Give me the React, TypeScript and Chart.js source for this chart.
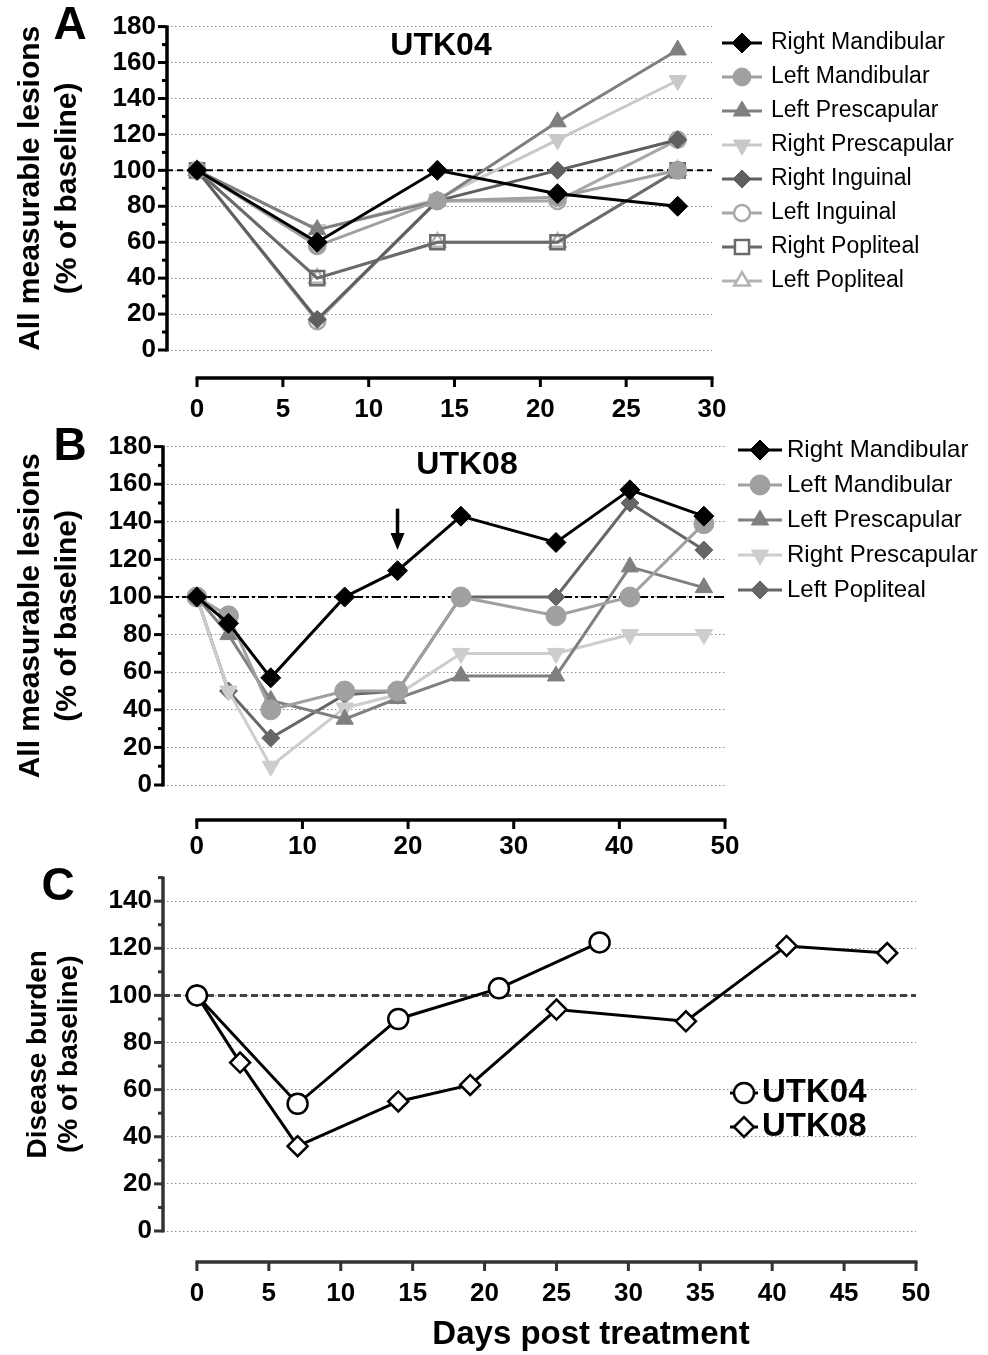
import React, { useEffect, useRef } from 'react';
import { Chart, registerables } from 'chart.js';
import { drawPoint } from 'chart.js/helpers';

Chart.register(...registerables);

const FONT = "'Liberation Sans', Arial, Helvetica, sans-serif";

// ---------- Panel A (UTK04) ----------
const daysA = [0, 7, 14, 21, 28];
const rightMandibularA = [100, 60, 100, 87, 80];
const leftMandibularA = [100, 58, 83, 85, 100];
const leftPrescapularA = [100, 67, 83, 127, 167];
const rightPrescapularA = [100, 67, 84, 117, 150];
const rightInguinalA = [100, 17, 83, 100, 117];
const leftInguinalA = [100, 16, 83, 83, 117];
const rightPoplitealA = [100, 40, 60, 60, 100];
const leftPoplitealA = [100, 40, 60, 60, 100];
const xTicksA = [0, 5, 10, 15, 20, 25, 30];
const yTicksAB = [0, 20, 40, 60, 80, 100, 120, 140, 160, 180];
const yMinorAB = [10, 30, 50, 70, 90, 110, 130, 150, 170];

// ---------- Panel B (UTK08) ----------
const daysB = [0, 3, 7, 14, 19, 25, 34, 41, 48];
const rightMandibularB = [100, 86, 57, 100, 114, 143, 129, 157, 143];
const leftMandibularB = [100, 90, 40, 50, 50, 100, 90, 100, 139];
const leftPrescapularB = [100, 80, 45, 35, 46, 58, 58, 116, 105];
const rightPrescapularB = [100, 50, 10, 41, 48, 70, 70, 80, 80];
const leftPoplitealB = [100, 50, 25, 48, 50, 100, 100, 150, 125];
const xTicksB = [0, 10, 20, 30, 40, 50];

// ---------- Panel C (disease burden) ----------
const daysUTK04 = [0, 7, 14, 21, 28];
const burdenUTK04 = [100, 54, 90, 103, 122.5];
const daysUTK08 = [0, 3, 7, 14, 19, 25, 34, 41, 48];
const burdenUTK08 = [100, 71.5, 36, 55, 62, 94, 89, 121, 118];
const xTicksC = [0, 5, 10, 15, 20, 25, 30, 35, 40, 45, 50];
const yTicksC = [0, 20, 40, 60, 80, 100, 120, 140];
const yMinorC = [10, 30, 50, 70, 90, 110, 130, 150];

const pts = (xs: number[], ys: number[]) => xs.map((x, i) => ({ x, y: ys[i] }));

type Style = {
  color: string;
  shape: string;
  radius: number;
  open?: boolean;
  rotation?: number;
  lineWidth?: number;
  fill?: string;
};

const series = (label: string, xs: number[], ys: number[], s: Style) => ({
  label,
  data: pts(xs, ys),
  borderColor: s.color,
  borderWidth: s.lineWidth ?? 3,
  pointStyle: s.shape,
  pointRadius: s.radius,
  pointRotation: s.rotation ?? 0,
  pointBackgroundColor: s.fill ?? (s.open ? 'rgba(255,255,255,0)' : s.color),
  pointBorderColor: s.color,
  pointBorderWidth: s.open ? 2.5 : 1,
  tension: 0,
  clip: false as any,
});

const panelPlugin = {
  id: 'panel',
  beforeDatasetsDraw(chart: any, _a: any, o: any) {
    const { ctx, chartArea: ca, scales } = chart;
    const yy = scales.y.getPixelForValue(100);
    ctx.save();
    ctx.setLineDash(o.refDash);
    ctx.strokeStyle = o.refColor;
    ctx.lineWidth = o.refWidth;
    ctx.beginPath();
    ctx.moveTo(ca.left, yy);
    ctx.lineTo(ca.right, yy);
    ctx.stroke();
    ctx.restore();
  },
  afterDraw(chart: any, _a: any, o: any) {
    const { ctx, chartArea: ca, scales } = chart;
    const x = scales.x;
    const y = scales.y;
    ctx.save();
    ctx.strokeStyle = o.axisColor;
    ctx.lineCap = 'butt';
    // y axis
    ctx.lineWidth = 3.5;
    ctx.beginPath();
    ctx.moveTo(ca.left, ca.top - 1);
    ctx.lineTo(ca.left, ca.bottom + 1.5);
    ctx.stroke();
    ctx.lineWidth = 3;
    for (const t of y.ticks) {
      const py = y.getPixelForValue(t.value);
      ctx.beginPath();
      ctx.moveTo(ca.left, py);
      ctx.lineTo(ca.left - 9, py);
      ctx.stroke();
    }
    for (const v of o.yMinor) {
      const py = y.getPixelForValue(v);
      ctx.beginPath();
      ctx.moveTo(ca.left, py);
      ctx.lineTo(ca.left - 5, py);
      ctx.stroke();
    }
    // x axis (offset below plot)
    const xb = ca.bottom + o.xAxisOffset;
    const xt = x.ticks.map((t: any) => t.value);
    ctx.lineWidth = 3.5;
    ctx.beginPath();
    ctx.moveTo(x.getPixelForValue(xt[0]) - 1.5, xb);
    ctx.lineTo(x.getPixelForValue(xt[xt.length - 1]) + 1.5, xb);
    ctx.stroke();
    ctx.lineWidth = 3;
    for (const v of xt) {
      const px = x.getPixelForValue(v);
      ctx.beginPath();
      ctx.moveTo(px, xb);
      ctx.lineTo(px, xb + 9);
      ctx.stroke();
    }
    // arrow
    if (o.arrow) {
      const ax = x.getPixelForValue(o.arrow.x);
      const top = y.getPixelForValue(o.arrow.top);
      const tip = y.getPixelForValue(o.arrow.tip);
      ctx.fillStyle = '#000';
      ctx.strokeStyle = '#000';
      ctx.lineWidth = 3.5;
      ctx.beginPath();
      ctx.moveTo(ax, top);
      ctx.lineTo(ax, tip - 14);
      ctx.stroke();
      ctx.beginPath();
      ctx.moveTo(ax - 7, tip - 17);
      ctx.lineTo(ax + 7, tip - 17);
      ctx.lineTo(ax, tip);
      ctx.closePath();
      ctx.fill();
    }
    // texts
    ctx.fillStyle = '#000';
    ctx.textBaseline = 'middle';
    for (const t of o.texts) {
      ctx.font = t.font;
      ctx.textAlign = t.align || 'center';
      ctx.fillText(t.text, t.x, t.y);
    }
    // legend
    const lg = o.legend;
    if (lg) {
      const dsets = chart.data.datasets;
      dsets.forEach((ds: any, i: number) => {
        const cy = lg.y0 + i * lg.dy;
        ctx.setLineDash([]);
        ctx.strokeStyle = ds.borderColor;
        ctx.lineWidth = ds.borderWidth;
        ctx.beginPath();
        ctx.moveTo(lg.x - lg.half, cy);
        ctx.lineTo(lg.x + lg.half, cy);
        ctx.stroke();
        ctx.fillStyle = ds.pointBackgroundColor === 'rgba(255,255,255,0)' ? '#fff' : ds.pointBackgroundColor;
        ctx.strokeStyle = ds.pointBorderColor;
        ctx.lineWidth = ds.pointBorderWidth;
        drawPoint(ctx, { pointStyle: ds.pointStyle, rotation: ds.pointRotation, radius: ds.pointRadius, borderWidth: ds.pointBorderWidth } as any, lg.x, cy);
        ctx.fillStyle = '#000';
        ctx.font = lg.font;
        ctx.textAlign = 'left';
        ctx.textBaseline = 'middle';
        ctx.fillText(ds.label, lg.textX, cy);
      });
    }
    ctx.restore();
  },
};

type PanelCfg = {
  width: number;
  height: number;
  datasets: any[];
  xMin: number;
  xMax: number;
  xTicks: number[];
  yMax: number;
  yTicks: number[];
  yMinor: number[];
  yWidth: number;
  xHeight: number;
  padTop: number;
  padRight: number;
  xLabelPad: number;
  yTitle: string[];
  yTitleFont: any;
  yTitlePad: number;
  plugin: any;
};

function buildConfig(p: PanelCfg): any {
  return {
    type: 'line',
    data: { datasets: p.datasets },
    plugins: [panelPlugin],
    options: {
      animation: false,
      responsive: false,
      maintainAspectRatio: false,
      events: [],
      layout: { padding: { top: p.padTop, right: p.padRight, left: 0, bottom: 0 } },
      plugins: {
        legend: { display: false },
        tooltip: { enabled: false },
        panel: p.plugin,
      },
      scales: {
        x: {
          type: 'linear',
          min: p.xMin,
          max: p.xMax,
          afterBuildTicks: (s: any) => {
            s.ticks = p.xTicks.map((v) => ({ value: v }));
          },
          afterFit: (s: any) => {
            s.height = p.xHeight;
          },
          grid: { display: false, drawTicks: false },
          border: { display: false },
          ticks: {
            padding: p.xLabelPad,
            color: '#000',
            maxRotation: 0,
            autoSkip: false,
            font: { family: FONT, size: 26, weight: 'bold' },
          },
        },
        y: {
          type: 'linear',
          min: 0,
          max: p.yMax,
          afterBuildTicks: (s: any) => {
            s.ticks = p.yTicks.map((v) => ({ value: v }));
          },
          afterFit: (s: any) => {
            s.width = p.yWidth;
          },
          grid: { display: true, drawTicks: false, color: '#8c8c8c', lineWidth: 1 },
          border: { display: false, dash: [1.5, 2.5] },
          ticks: {
            padding: 11,
            color: '#000',
            autoSkip: false,
            font: { family: FONT, size: 26, weight: 'bold' },
          },
          title: {
            display: true,
            text: p.yTitle,
            color: '#000',
            font: p.yTitleFont,
            padding: { top: p.yTitlePad, bottom: 0 },
          },
        },
      },
    },
  };
}

const W = 988;

const panelA: PanelCfg = {
  width: W,
  height: 432,
  datasets: [
    series('Right Mandibular', daysA, rightMandibularA, { color: '#000000', shape: 'rectRot', radius: 10 }),
    series('Left Mandibular', daysA, leftMandibularA, { color: '#a0a0a0', shape: 'circle', radius: 9 }),
    series('Left Prescapular', daysA, leftPrescapularA, { color: '#7f7f7f', shape: 'triangle', radius: 10 }),
    series('Right Prescapular', daysA, rightPrescapularA, { color: '#c8c8c8', shape: 'triangle', radius: 10, rotation: 180 }),
    series('Right Inguinal', daysA, rightInguinalA, { color: '#5f5f5f', shape: 'rectRot', radius: 9 }),
    series('Left Inguinal', daysA, leftInguinalA, { color: '#a8a8a8', shape: 'circle', radius: 8, open: true }),
    series('Right Popliteal', daysA, rightPoplitealA, { color: '#6a6a6a', shape: 'rect', radius: 10, open: true }),
    series('Left Popliteal', daysA, leftPoplitealA, { color: '#b4b4b4', shape: 'triangle', radius: 9, open: true }),
  ],
  xMin: -1.75,
  xMax: 30,
  xTicks: xTicksA,
  yMax: 180,
  yTicks: yTicksAB,
  yMinor: yMinorAB,
  yWidth: 167,
  xHeight: 82,
  padTop: 24,
  padRight: W - 712,
  xLabelPad: 44,
  yTitle: ['All measurable lesions', '(% of baseline)'],
  yTitleFont: { family: FONT, size: 30, weight: 'bold', lineHeight: 1.24 },
  yTitlePad: 12,
  plugin: {
    refDash: [6, 4],
    refColor: '#000',
    refWidth: 2,
    axisColor: '#000',
    yMinor: yMinorAB,
    xAxisOffset: 28,
    texts: [
      { text: 'A', x: 70, y: 26, font: `bold 46px ${FONT}` },
      { text: 'UTK04', x: 441, y: 46, font: `bold 32px ${FONT}` },
    ],
    legend: { x: 742, half: 20, textX: 771, y0: 43, dy: 34, font: `23px ${FONT}` },
  },
};

const panelB: PanelCfg = {
  width: W,
  height: 440,
  datasets: [
    series('Right Mandibular', daysB, rightMandibularB, { color: '#000000', shape: 'rectRot', radius: 10 }),
    series('Left Mandibular', daysB, leftMandibularB, { color: '#a0a0a0', shape: 'circle', radius: 10 }),
    series('Left Prescapular', daysB, leftPrescapularB, { color: '#808080', shape: 'triangle', radius: 10 }),
    series('Right Prescapular', daysB, rightPrescapularB, { color: '#cdcdcd', shape: 'triangle', radius: 10, rotation: 180 }),
    series('Left Popliteal', daysB, leftPoplitealB, { color: '#666666', shape: 'rectRot', radius: 9 }),
  ],
  xMin: -3.2,
  xMax: 50,
  xTicks: xTicksB,
  yMax: 180,
  yTicks: yTicksAB,
  yMinor: yMinorAB,
  yWidth: 163,
  xHeight: 75,
  padTop: 21,
  padRight: W - 725,
  xLabelPad: 46,
  yTitle: ['All measurable lesions', '(% of baseline)'],
  yTitleFont: { family: FONT, size: 30, weight: 'bold', lineHeight: 1.24 },
  yTitlePad: 12,
  plugin: {
    refDash: [10, 3, 3, 3],
    refColor: '#000',
    refWidth: 2,
    axisColor: '#000',
    yMinor: yMinorAB,
    xAxisOffset: 35,
    arrow: { x: 19, top: 147, tip: 125 },
    texts: [
      { text: 'B', x: 70, y: 27, font: `bold 46px ${FONT}` },
      { text: 'UTK08', x: 467, y: 45, font: `bold 32px ${FONT}` },
    ],
    legend: { x: 760, half: 22, textX: 787, y0: 30, dy: 35, font: `24px ${FONT}` },
  },
};

const panelC: PanelCfg = {
  width: W,
  height: 504,
  datasets: [
    series('UTK04', daysUTK04, burdenUTK04, { color: '#000000', shape: 'circle', radius: 10, open: true, fill: '#ffffff' }),
    series('UTK08', daysUTK08, burdenUTK08, { color: '#000000', shape: 'rectRot', radius: 10, open: true, fill: '#ffffff' }),
  ],
  xMin: -2.36,
  xMax: 50,
  xTicks: xTicksC,
  yMax: 150,
  yTicks: yTicksC,
  yMinor: yMinorC,
  yWidth: 163,
  xHeight: 124,
  padTop: 15,
  padRight: W - 916,
  xLabelPad: 47,
  yTitle: ['Disease burden', '(% of baseline)'],
  yTitleFont: { family: FONT, size: 28, weight: 'bold', lineHeight: 1.1 },
  yTitlePad: 23,
  plugin: {
    refDash: [7, 4],
    refColor: '#444',
    refWidth: 3,
    axisColor: '#333',
    yMinor: yMinorC,
    xAxisOffset: 31,
    texts: [
      { text: 'C', x: 58, y: 36, font: `bold 46px ${FONT}` },
      { text: 'Days post treatment', x: 591, y: 484, font: `bold 33px ${FONT}` },
    ],
    legend: { x: 744, half: 14, textX: 762, y0: 242, dy: 34, font: `bold 33px ${FONT}` },
  },
};

function Panel({ cfg, top }: { cfg: PanelCfg; top: number }) {
  const ref = useRef<HTMLCanvasElement | null>(null);
  useEffect(() => {
    if (!ref.current) return;
    const chart = new Chart(ref.current, buildConfig(cfg));
    return () => chart.destroy();
  }, [cfg]);
  return (
    <canvas
      ref={ref}
      width={cfg.width}
      height={cfg.height}
      style={{ position: 'absolute', left: 0, top, width: cfg.width, height: cfg.height }}
    />
  );
}

export default function App() {
  return (
    <div style={{ position: 'absolute', left: 0, top: 0, width: W, height: 1355, background: '#fff', overflow: 'hidden' }}>
      <Panel cfg={panelA} top={0} />
      <Panel cfg={panelB} top={420} />
      <Panel cfg={panelC} top={851} />
    </div>
  );
}
